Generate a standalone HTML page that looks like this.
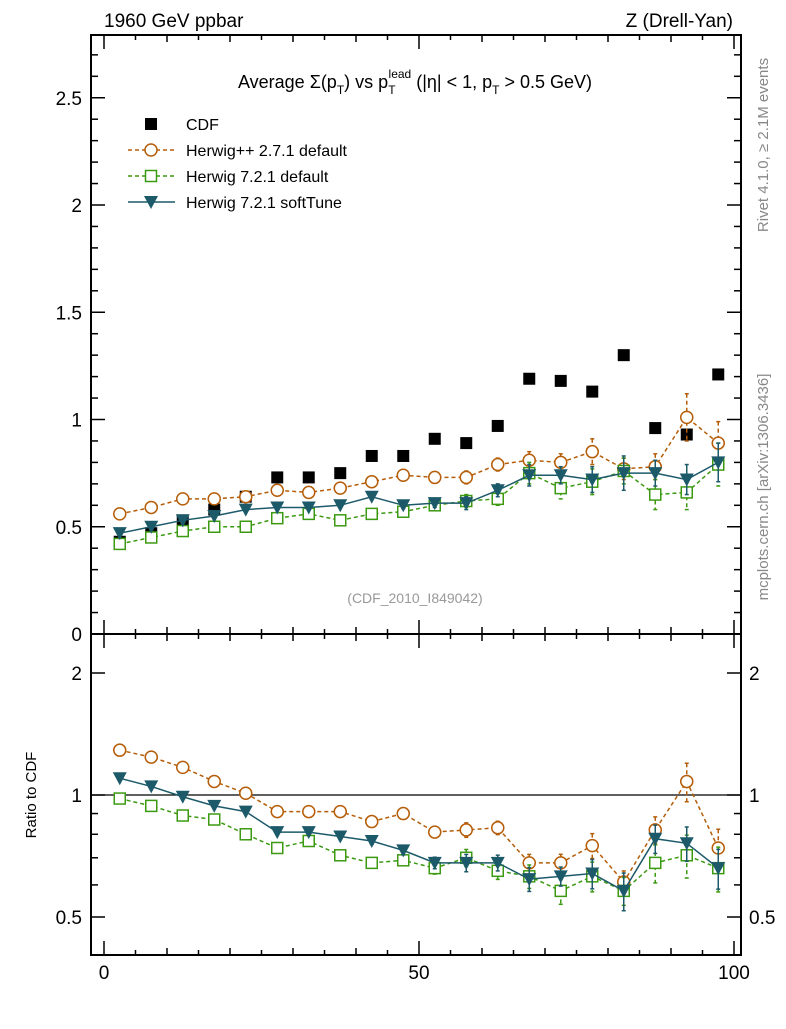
<!DOCTYPE html>
<html><head><meta charset="utf-8"><style>
body{margin:0;background:#fff;width:786px;height:1024px;overflow:hidden}
svg{font-family:"Liberation Sans",sans-serif}
</style></head><body>
<svg id="c" width="786" height="1024"></svg>
<script>
const xCenters=[2.5,7.5,12.5,17.5,22.5,27.5,32.5,37.5,42.5,47.5,52.5,57.5,62.5,67.5,72.5,77.5,82.5,87.5,92.5,97.5];
const cdf=[0.43,0.47,0.53,0.58,0.64,0.73,0.73,0.75,0.83,0.83,0.91,0.89,0.97,1.19,1.18,1.13,1.30,0.96,0.93,1.21];
const hpp=[0.56,0.59,0.63,0.63,0.64,0.67,0.66,0.68,0.71,0.74,0.73,0.73,0.79,0.81,0.80,0.85,0.77,0.78,1.01,0.89];
const hdef=[0.42,0.45,0.48,0.50,0.50,0.54,0.56,0.53,0.56,0.57,0.60,0.62,0.63,0.75,0.68,0.71,0.76,0.65,0.66,0.79];
const hsoft=[0.47,0.50,0.53,0.55,0.58,0.59,0.59,0.60,0.64,0.60,0.61,0.61,0.67,0.74,0.74,0.72,0.75,0.75,0.72,0.80];
const hppErr=[0.005,0.005,0.006,0.006,0.007,0.008,0.009,0.01,0.012,0.015,0.02,0.03,0.03,0.04,0.04,0.06,0.05,0.06,0.11,0.1];
const hdefErr=[0.005,0.005,0.006,0.006,0.007,0.008,0.009,0.01,0.012,0.015,0.02,0.03,0.03,0.05,0.05,0.06,0.06,0.07,0.08,0.1];
const hsoftErr=[0.005,0.005,0.006,0.006,0.007,0.008,0.009,0.01,0.012,0.015,0.02,0.03,0.03,0.05,0.04,0.06,0.08,0.06,0.07,0.09];
const rHpp=[1.29,1.24,1.17,1.08,1.01,0.91,0.91,0.91,0.86,0.90,0.81,0.82,0.83,0.68,0.68,0.75,0.61,0.82,1.08,0.74];
const rHdef=[0.98,0.94,0.89,0.87,0.80,0.74,0.77,0.71,0.68,0.69,0.66,0.70,0.65,0.63,0.58,0.63,0.58,0.68,0.71,0.66];
const rHsoft=[1.10,1.05,0.99,0.94,0.91,0.81,0.81,0.79,0.77,0.73,0.68,0.68,0.68,0.62,0.63,0.64,0.58,0.78,0.76,0.66];
const mainTicks=["0.5","1","1.5","2","2.5"];
const ratioTicks=["0.5","1","2"];
const xTicks=["0","50","100"];

const NS="http://www.w3.org/2000/svg";
const svg=document.getElementById('c');
function el(t,a,p){const e=document.createElementNS(NS,t);for(const k in a)e.setAttribute(k,a[k]);(p||svg).appendChild(e);return e;}
const L=91,R=741,T=35,M=634,B=955;
const X=v=>104+6.3*v;
const Y=v=>634-214.5*v;
const YR=v=>795-122*Math.log2(v);
const ORANGE="#b55d08",GREEN="#3c9a12",TEAL="#1c5a6a";

// frames
let f=el('rect',{x:L,y:T,width:R-L,height:M-T,fill:'none',stroke:'#000','stroke-width':2});

f=el('rect',{x:L,y:M,width:R-L,height:B-M,fill:'none',stroke:'#000','stroke-width':2});


// x ticks
const tg=el('g',{stroke:'#000','stroke-width':1.5});

for(let v=0;v<=100;v+=5){
  const len=v%50==0?14:(v%10==0?7:5);const x=X(v);
  for(const yb of [T,M,B]){
    if(yb!==T) el('line',{x1:x,x2:x,y1:yb,y2:yb-len},tg);
    if(yb!==B) el('line',{x1:x,x2:x,y1:yb,y2:yb+len},tg);
  }
}
for(let i=1;i<=27;i++){const v=i/10;const y=Y(v);if(y<T)break;const len=i%5==0?14:7;
  el('line',{x1:L,x2:L+len,y1:y,y2:y},tg);el('line',{x1:R,x2:R-len,y1:y,y2:y},tg);}
for(const v of [0.4,0.5,0.6,0.7,0.8,0.9,1,2]){const y=YR(v);if(y>B)continue;const len=(v==0.5||v==1||v==2)?14:7;
  el('line',{x1:L,x2:L+len,y1:y,y2:y},tg);el('line',{x1:R,x2:R-len,y1:y,y2:y},tg);}
const one=el('line',{x1:L,x2:R,y1:YR(1),y2:YR(1),stroke:'#000','stroke-width':1.3});


function txt(s,a,name){const t=el('text',a);t.textContent=s;return t;}
mainTicks.forEach(s=>txt(s,{x:82,y:Y(+s)+7,'text-anchor':'end','font-size':19},'y-tick-label'));
txt("0",{x:82,y:641,'text-anchor':'end','font-size':19},'y-tick-label');
ratioTicks.forEach(s=>{txt(s,{x:82,y:YR(+s)+7,'text-anchor':'end','font-size':19},'ratio-y-tick-label');
  txt(s,{x:749,y:YR(+s)+7,'font-size':19},'ratio-y-tick-label-right');});
xTicks.forEach(s=>txt(s,{x:X(+s),y:979,'text-anchor':'middle','font-size':19},'x-tick-label'));

txt("1960 GeV ppbar",{x:104,y:27,'font-size':19},'energy-label');
txt("Z (Drell-Yan)",{x:733,y:27,'text-anchor':'end','font-size':19},'process-label');
const ti=el('text',{x:415,y:88,'text-anchor':'middle','font-size':18});

ti.innerHTML='Average Σ(p<tspan font-size="12" dy="6">T</tspan><tspan dy="-6">) vs p</tspan><tspan font-size="12" dy="6">T</tspan><tspan font-size="12" dx="-7" dy="-16">lead</tspan><tspan dy="10"> (|η| &lt; 1, p</tspan><tspan font-size="12" dy="6">T</tspan><tspan dy="-6"> &gt; 0.5 GeV)</tspan>';
txt("(CDF_2010_I849042)",{x:415,y:603,'text-anchor':'middle','font-size':14,fill:'#999'},'analysis-id');
txt("Ratio to CDF",{x:36,y:795,'text-anchor':'middle','font-size':15,transform:'rotate(-90 36 795)'},'ratio-y-axis-title');
txt("Rivet 4.1.0, ≥ 2.1M events",{x:768,y:145,'text-anchor':'middle','font-size':15,fill:'#888',transform:'rotate(-90 768 145)'},'rivet-label');
txt("mcplots.cern.ch [arXiv:1306.3436]",{x:768,y:487,'text-anchor':'middle','font-size':15,fill:'#888',transform:'rotate(-90 768 487)'},'mcplots-label');

function marker(type,x,y,c,g){
  if(type=='sq') el('rect',{x:x-6,y:y-6,width:12,height:12,fill:'#000'},g);
  else if(type=='circ') el('circle',{cx:x,cy:y,r:6,fill:'#fff',stroke:c,'stroke-width':1.5},g);
  else if(type=='osq') el('rect',{x:x-5.5,y:y-5.5,width:11,height:11,fill:'#fff',stroke:c,'stroke-width':1.5},g);
  else el('polygon',{points:`${x-7},${y-6} ${x+7},${y-6} ${x},${y+7}`,fill:c},g);
}
function series(name,vals,errs,yf,c,dash,type){
  const g=el('g',{});
  if(c){const pts=vals.map((v,i)=>X(xCenters[i])+','+yf(v)).join(' ');
    el('polyline',{points:pts,fill:'none',stroke:c,'stroke-width':1.5,'stroke-dasharray':dash||'none'},g);}
  vals.forEach((v,i)=>{const x=X(xCenters[i]),y=yf(v);
    if(errs){const e=errs[i];const y1=yf(v+e),y2=yf(v-e);
      if(y2-y1>4){el('line',{x1:x,x2:x,y1:y1,y2:y2,stroke:c,'stroke-width':1.5,'stroke-dasharray':dash||'none'},g);
      el('line',{x1:x-2,x2:x+2,y1:y1,y2:y1,stroke:c,'stroke-width':1.5},g);el('line',{x1:x-2,x2:x+2,y1:y2,y2:y2,stroke:c,'stroke-width':1.5},g);}}
    marker(type,x,y,c,g);});
}
series('cdf-data',cdf,null,Y,null,null,'sq');
series('herwigpp-271-series',hpp,hppErr,Y,ORANGE,'4,3','circ');
series('herwig-721-default-series',hdef,hdefErr,Y,GREEN,'4,3','osq');
series('herwig-721-softtune-series',hsoft,hsoftErr,Y,TEAL,null,'tri');
const relErr=(arr,err,base)=>arr.map((v,i)=>v*err[i]/base[i]);
series('ratio-herwigpp-271',rHpp,relErr(rHpp,hppErr,hpp),YR,ORANGE,'4,3','circ');
series('ratio-herwig-721-default',rHdef,relErr(rHdef,hdefErr,hdef),YR,GREEN,'4,3','osq');
series('ratio-herwig-721-softtune',rHsoft,relErr(rHsoft,hsoftErr,hsoft),YR,TEAL,null,'tri');

// legend
const lg=el('g',{});
const leg=[['CDF',null,null,'sq'],['Herwig++ 2.7.1 default',ORANGE,'4,3','circ'],['Herwig 7.2.1 default',GREEN,'4,3','osq'],['Herwig 7.2.1 softTune',TEAL,null,'tri']];
leg.forEach((l,i)=>{const y=124+26*i;const g=el('g',{},lg);
  if(l[1]) el('line',{x1:128,x2:175,y1:y,y2:y,stroke:l[1],'stroke-width':1.5,'stroke-dasharray':l[2]||'none'},g);
  marker(l[3],151,y,l[1],g);
  const t=el('text',{x:186,y:y+6,'font-size':16},g);t.textContent=l[0];});
</script>
</body></html>
